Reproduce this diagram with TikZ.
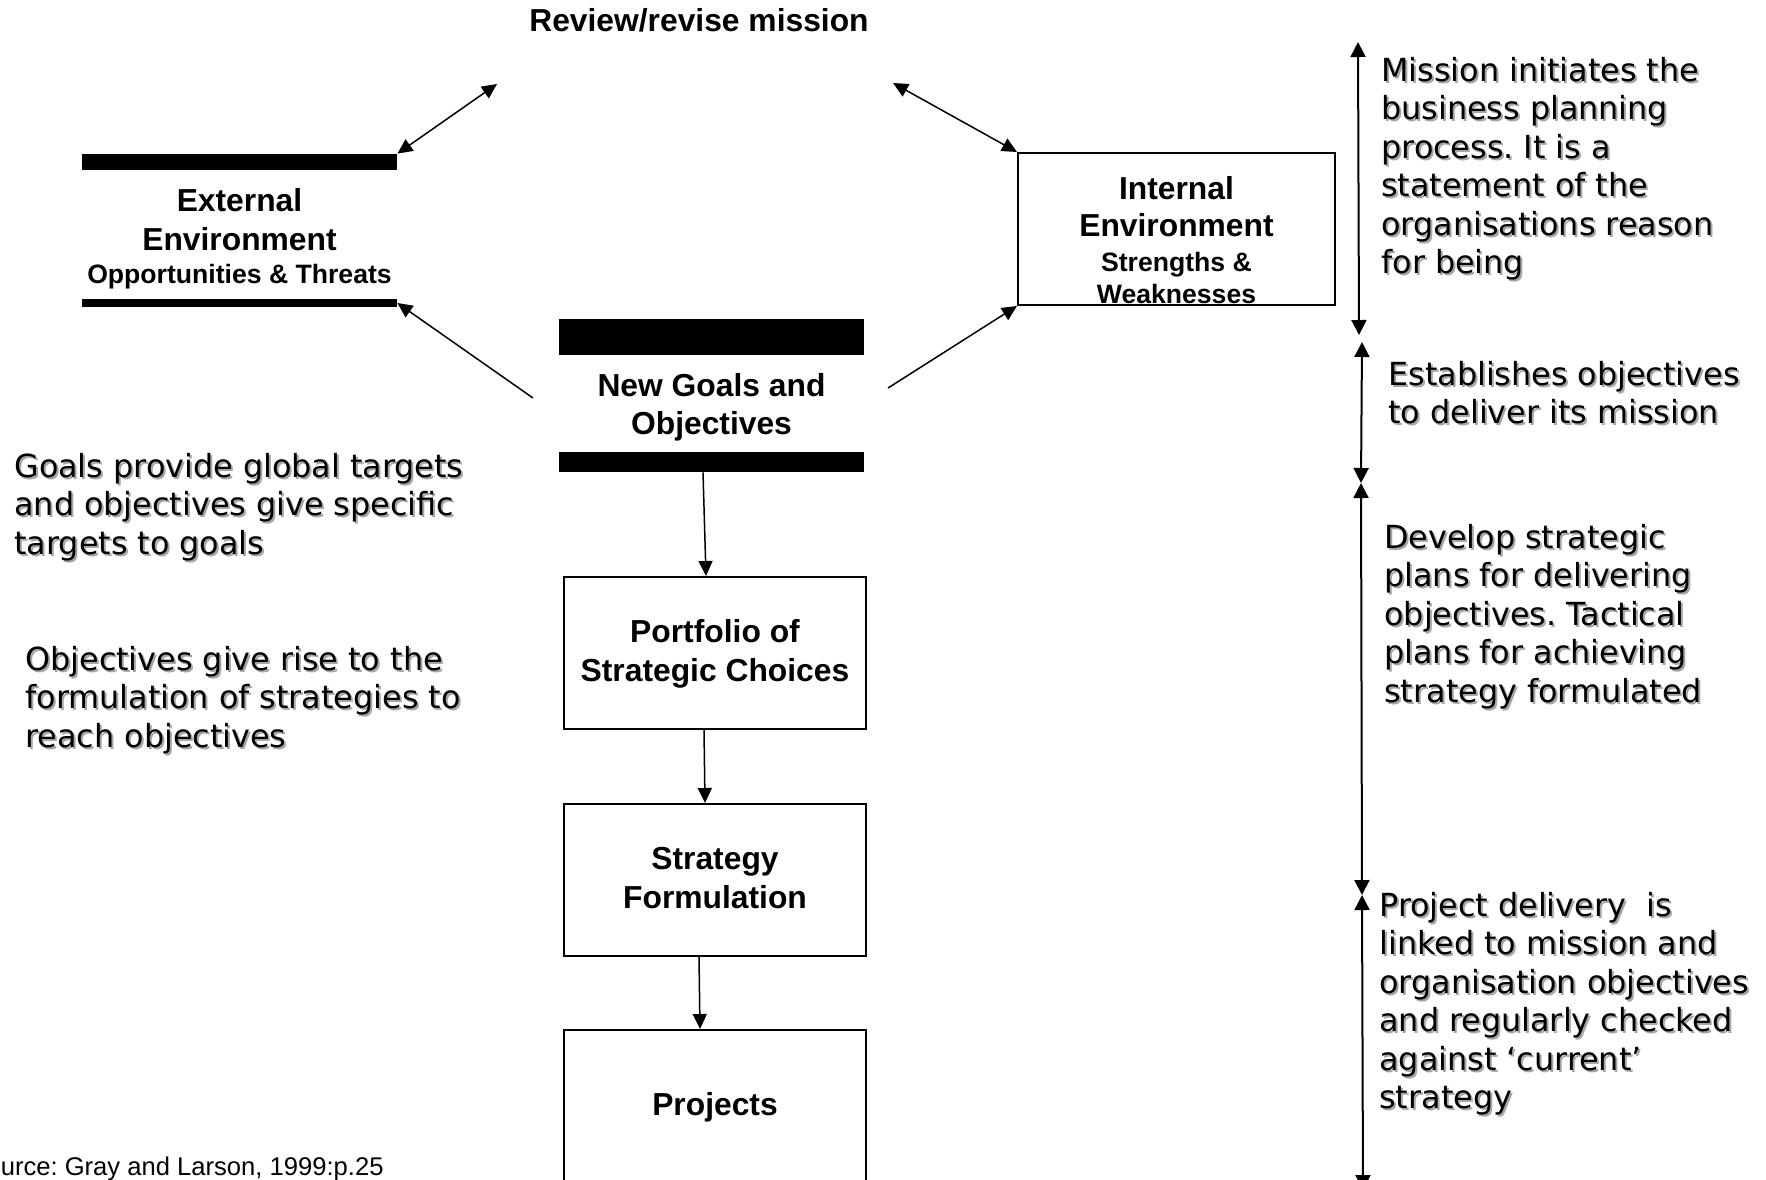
\documentclass[tikz,border=0pt]{standalone}
\usepackage{fontspec}
\setmainfont{DejaVu Sans}
\newfontfamily\arialf{Liberation Sans}
\newfontfamily\verd{DejaVu Sans}
\usetikzlibrary{arrows.meta}
\frenchspacing
\newcommand\mystrut{\rule[-5pt]{0pt}{19pt}}
\newcommand\istrut{\rule[-3.5pt]{0pt}{15pt}}
\newcommand\shl[1]{\mystrut\makebox[0pt][l]{\hspace*{1pt}\raisebox{-1pt}{\color{black!35}#1}}#1}
\newcommand\lblf[1]{\arialf\bfseries\fontsize{15.9}{#1}\selectfont}
\newcommand\smallf{\fontsize{13.3}{16}\selectfont}
\begin{document}
\begin{tikzpicture}[x=0.5pt,y=-0.5pt,
  barr/.style={fill=black, draw=none, inner sep=0pt},
  boxn/.style={draw=black, line width=1pt, inner sep=0pt, minimum width=151pt, minimum height=76pt, align=center, font={\lblf{19.3}}},
  lbl/.style={inner sep=0pt, align=center, anchor=north},
  note/.style={inner sep=0pt, align=left, anchor=north west, font={\verd\fontsize{15.9}{19.2}\selectfont}},
  arr/.style={-{Triangle[length=7.5pt,width=7pt]}, line width=0.75pt},
  darr/.style={{Triangle[length=7.5pt,width=7pt]}-{Triangle[length=7.5pt,width=7pt]}, line width=0.75pt},
  vdarr/.style={{Triangle[length=7.5pt,width=7.5pt]}-{Triangle[length=7.5pt,width=7.5pt]}, line width=1pt}
]
\useasboundingbox (0,0) rectangle (1766,1179);
\clip (0,0) rectangle (1766,1179);

% mission
\node[lbl, font={\lblf{19.3}}] (mission) at (699,3) {\mystrut Review/revise mission};
\coordinate (mL) at (497,84);
\coordinate (mR) at (893,83);

% external environment
\node[barr, minimum width=157.5pt, minimum height=8pt] (exttop) at (239.5,162) {};
\node[barr, minimum width=157.5pt, minimum height=4pt] (extbot) at (239.5,303) {};
\node[lbl, font={\lblf{19.5}}] (extlbl) at (239.5,183)
  {\mystrut External\\\mystrut Environment\\[-2.75pt]\mystrut{\smallf Opportunities \& Threats}};

% internal environment
\node[draw=black, line width=1pt, inner sep=0pt, minimum width=158.5pt, minimum height=76pt] (internal) at (1176.5,229) {};
\node[lbl, font={\lblf{18.5}}] (intlbl) at (1176.5,176)
  {\istrut Internal\\\istrut Environment\\[-1pt]\istrut{\smallf Strengths \&}\\[-2.25pt]\istrut{\smallf Weaknesses}};

% new goals
\node[barr, minimum width=152.5pt, minimum height=18pt] (ngtop) at (711.5,337) {};
\node[barr, minimum width=152.5pt, minimum height=10pt] (ngbot) at (711.5,462) {};
\node[lbl, font={\lblf{19}}] (nglbl) at (711.5,368) {\mystrut New Goals and\\\mystrut Objectives};
\coordinate (ngL) at (533,398);
\coordinate (ngR) at (888,388);

% boxes
\node[boxn] (portfolio) at (715,653) {\mystrut Portfolio of\\\mystrut Strategic Choices};
\node[boxn] (strategy) at (715,880) {\mystrut Strategy\\\mystrut Formulation};
\node[boxn] (projects) at (715,1106) {\mystrut Projects};

% connectors
\draw[darr] (exttop.north east) -- (mL);
\draw[darr] (mR) -- (internal.north west);
\draw[arr] (ngL) -- (extbot.east);
\draw[arr] (ngR) -- (internal.south west);
\draw[arr] ([xshift=-4.25pt]ngbot.south) -- ([xshift=-4.5pt]portfolio.north);
\draw[arr] ([xshift=-5.5pt]portfolio.south) -- ([xshift=-5pt]strategy.north);
\draw[arr] ([xshift=-8pt]strategy.south) -- ([xshift=-7.5pt]projects.north);

% right-hand scale
\coordinate (r0) at (1358,42);
\coordinate (r1a) at (1359,335);
\coordinate (r1b) at (1362,342);
\coordinate (r2) at (1361,483);
\coordinate (r3) at (1362,895);
\coordinate (r4) at (1363,1190);
\draw[vdarr] (r0) -- (r1a);
\draw[vdarr] (r1b) -- (r2);
\draw[vdarr] (r2) -- (r3);
\draw[vdarr] (r3) -- (r4);

% notes
\node[note] (t1) at (1381,53) {\shl{Mission initiates the}\\\shl{business planning}\\\shl{process. It is a}\\\shl{statement of the}\\\shl{organisations reason}\\\shl{for being}};
\node[note] (t2) at (1388,357) {\shl{Establishes objectives}\\\shl{to deliver its mission}};
\node[note] (t3) at (1384,520) {\shl{Develop strategic}\\\shl{plans for delivering}\\\shl{objectives. Tactical}\\\shl{plans for achieving}\\\shl{strategy formulated}};
\node[note] (t4) at (1379,888) {\shl{Project delivery~ is}\\\shl{linked to mission and}\\\shl{organisation objectives}\\\shl{and regularly checked}\\\shl{against ‘current’}\\\shl{strategy}};
\node[note] (t5) at (14,449) {\shl{Goals provide global targets}\\\shl{and objectives give specific}\\\shl{targets to goals}};
\node[note] (t6) at (25,642) {\shl{Objectives give rise to the}\\\shl{formulation of strategies to}\\\shl{reach objectives}};

% source
\node[anchor=base east, inner sep=0pt, font={\arialf\fontsize{12.8}{15}\selectfont}] (src) at (384,1175) {Source: Gray and Larson, 1999:p.25};
\end{tikzpicture}
\end{document}
